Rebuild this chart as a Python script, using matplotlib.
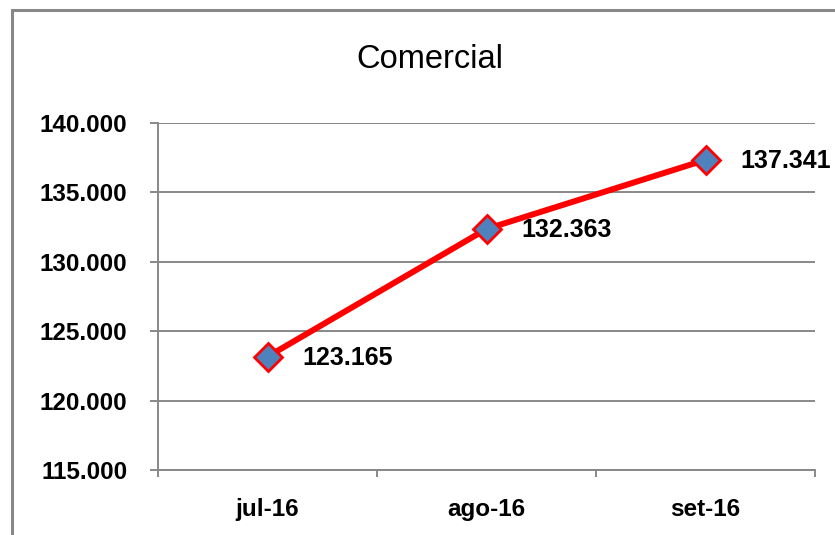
import matplotlib
matplotlib.use("Agg")
import matplotlib.pyplot as plt
from matplotlib.patches import Rectangle
from matplotlib.ticker import FuncFormatter

# data
months = ["jul-16", "ago-16", "set-16"]
values = [123165, 132363, 137341]
value_labels = ["123.165", "132.363", "137.341"]

plt.rcParams['font.family'] = ['Liberation Sans', 'DejaVu Sans']

W, H = 835, 535
fig = plt.figure(figsize=(W / 100, H / 100), dpi=100)
fig.patch.set_facecolor("white")

# outer chart border (right/bottom edges cut off in reference)
fig.patches.append(Rectangle((12 / W, -0.1), 1.2, 1 - 10 / H + 0.1, transform=fig.transFigure,
                             fill=False, edgecolor="#888888", linewidth=2.2))

ax = fig.add_axes([158 / W, 1 - 470 / H, (815 - 158) / W, (470 - 123) / H])

x = list(range(len(months)))
ax.plot(x, values, color="#ff0000", linewidth=4.3, marker="D", markersize=14,
        markerfacecolor="#4f81bd", markeredgecolor="#ff0000", markeredgewidth=2, zorder=3)

for xi, v, lab in zip(x, values, value_labels):
    ax.annotate(lab, (xi, v), xytext=(25, -1), textcoords="offset points",
                ha="left", va="center", fontsize=18, fontweight="bold", annotation_clip=False)

ax.set_xlim(-0.5, len(months) - 0.5)
ax.set_ylim(115000, 140000)
ax.set_yticks(range(115000, 140001, 5000))
ax.yaxis.set_major_formatter(FuncFormatter(lambda v, p: "{:,.0f}".format(v).replace(",", ".")))
ax.set_xticks(x)
ax.set_xticklabels(months)
ax.set_xticks([i - 0.5 for i in range(len(months) + 1)], minor=True)

ax.grid(axis="y", color="#888888", linewidth=1.4)
ax.set_axisbelow(True)
for s in ["top", "right"]:
    ax.spines[s].set_visible(False)
for s in ["left", "bottom"]:
    ax.spines[s].set_color("#888888")
    ax.spines[s].set_linewidth(1.4)

ax.tick_params(axis="y", length=6, width=1.4, color="#888888", pad=16, labelsize=17.5)
ax.tick_params(axis="x", which="major", length=0, pad=20, labelsize=17.5)
ax.tick_params(axis="x", which="minor", length=5, width=1.4, color="#888888")
for lab in ax.get_xticklabels() + ax.get_yticklabels():
    lab.set_fontweight("bold")

fig.text(430 / W, 1 - 60 / H, "Comercial", ha="center", va="center", fontsize=23.5)

fig.savefig("out.png", dpi=100)
